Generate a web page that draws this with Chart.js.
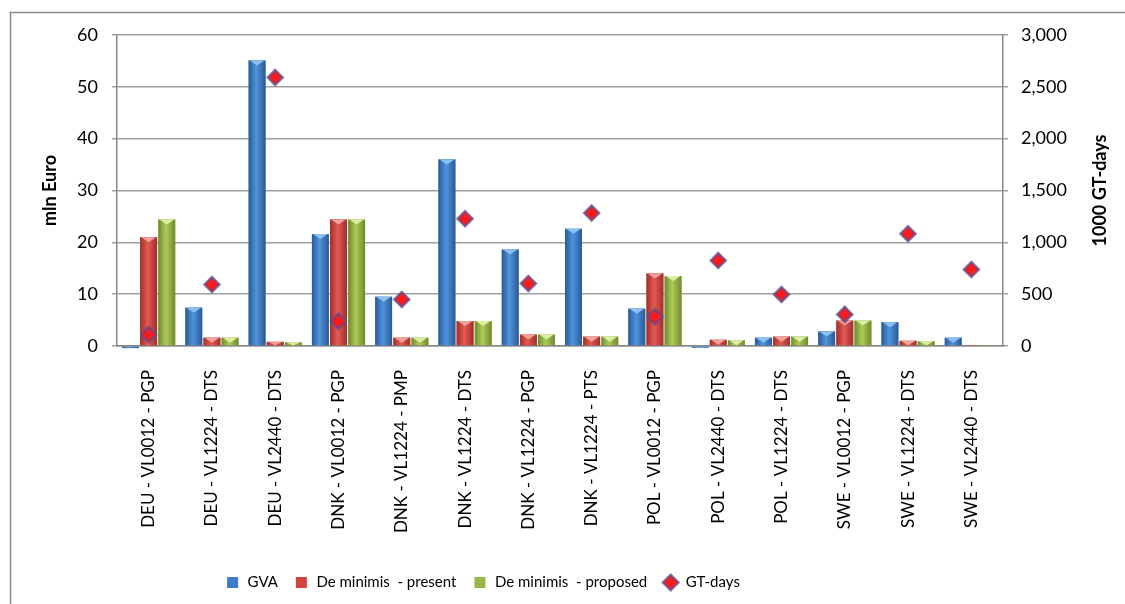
<!DOCTYPE html>
<html>
<head>
<meta charset="utf-8">
<script src="https://cdn.jsdelivr.net/npm/chart.js@4.4.0/dist/chart.umd.min.js"></script>
<style>
  html, body { margin: 0; padding: 0; background: #fff; }
  canvas { display: block; }
</style>
</head>
<body>
<canvas id="fleetChart" width="1125" height="604"></canvas>
<script>
// fleet segments and their values
const segments = [
  'DEU - VL0012 - PGP', 'DEU - VL1224 - DTS', 'DEU - VL2440 - DTS',
  'DNK - VL0012 - PGP', 'DNK - VL1224 - PMP', 'DNK - VL1224 - DTS',
  'DNK - VL1224 - PGP', 'DNK - VL1224 - PTS', 'POL - VL0012 - PGP',
  'POL - VL2440 - DTS', 'POL - VL1224 - DTS', 'SWE - VL0012 - PGP',
  'SWE - VL1224 - DTS', 'SWE - VL2440 - DTS'
];
const gva               = [-0.4, 7.4, 55.1, 21.6, 9.5, 36.0, 18.6, 22.6, 7.2, -0.3, 1.6, 2.8, 4.6, 1.6];
const deMinimisPresent  = [21.0, 1.6, 0.8, 24.4, 1.6, 4.8, 2.2, 1.8, 14.0, 1.2, 1.8, 4.9, 1.0, 0.2];
const deMinimisProposed = [24.4, 1.6, 0.7, 24.4, 1.6, 4.8, 2.2, 1.8, 13.5, 1.1, 1.8, 4.9, 0.9, 0.2];
const gtDays            = [110, 593, 2590, 240, 449, 1228, 603, 1282, 282, 824, 497, 305, 1083, 737];

const euroMax = 60, euroStep = 10;
const gtMax = 3000, gtStep = 500;

const FONT = 'Lato, "Liberation Sans", sans-serif';
const legendShift = -80;

// bar colours: flat fill for legend, dark/light for the cylinder look
const shades = [
  { mid: '#3c7bc6', dark: '#2a5a93', light: '#4f93de', top: '#8cc0f2' },
  { mid: '#d1443e', dark: '#a12e2a', light: '#e25a53', top: '#f3a19b' },
  { mid: '#97b744', dark: '#6d8a2e', light: '#aecb58', top: '#dcefa0' }
];

// paints each bar with a horizontal gradient and a light bevel on top
const barShade = {
  id: 'barShade',
  afterDatasetDraw(chart, args) {
    const meta = args.meta;
    if (meta.type !== 'bar') return;
    const shade = shades[args.index];
    const ctx = chart.ctx;
    ctx.save();
    meta.data.forEach(bar => {
      const { x, y, base, width } = bar.getProps(['x', 'y', 'base', 'width'], true);
      const left = x - width / 2;
      const top = Math.min(y, base);
      const h = Math.abs(base - y);
      if (h < 0.5) return;
      const g = ctx.createLinearGradient(left, 0, left + width, 0);
      g.addColorStop(0, shade.dark);
      g.addColorStop(0.45, shade.light);
      g.addColorStop(1, shade.dark);
      ctx.fillStyle = g;
      ctx.fillRect(left, top, width, h);
      if (y < base && h > 2) {
        ctx.fillStyle = shade.top;
        ctx.beginPath();
        ctx.moveTo(left + 1, top);
        ctx.lineTo(left + width - 1, top);
        ctx.lineTo(x, top + Math.min(5, h));
        ctx.closePath();
        ctx.fill();
      }
    });
    ctx.restore();
  }
};

// outer frame, right axis title and legend placement
const decor = {
  id: 'decor',
  afterLayout(chart) {
    chart.legend.left += legendShift;
    chart.legend.right += legendShift;
  },
  beforeDraw(chart) {
    const ctx = chart.ctx;
    ctx.save();
    ctx.fillStyle = '#fff';
    ctx.fillRect(0, 0, chart.width, chart.height);
    ctx.strokeStyle = '#8c8c8c';
    ctx.lineWidth = 1.5;
    ctx.beginPath();
    ctx.moveTo(10.5, chart.height);
    ctx.lineTo(10.5, 12.5);
    ctx.lineTo(chart.width, 12.5);
    ctx.stroke();
    ctx.restore();
  },
  afterDraw(chart) {
    const ctx = chart.ctx;
    const area = chart.chartArea;
    ctx.save();
    ctx.translate(chart.scales.y1.right - 25, (area.top + area.bottom) / 2);
    ctx.rotate(-Math.PI / 2);
    ctx.textAlign = 'center';
    ctx.textBaseline = 'middle';
    ctx.fillStyle = '#000';
    ctx.font = 'bold 18px ' + FONT;
    ctx.fillText('1000 GT-days', 0, 0);
    ctx.restore();
  }
};

const axisGrey = '#868686';

new Chart(document.getElementById('fleetChart'), {
  type: 'bar',
  data: {
    labels: segments,
    datasets: [
      { label: 'GVA', data: gva, backgroundColor: shades[0].mid, pointStyle: 'rect', order: 1, clip: 5,
        categoryPercentage: 0.86, barPercentage: 0.93 },
      { label: 'De minimis  - present', data: deMinimisPresent, backgroundColor: shades[1].mid, pointStyle: 'rect', order: 1,
        categoryPercentage: 0.86, barPercentage: 0.93 },
      { label: 'De minimis  - proposed', data: deMinimisProposed, backgroundColor: shades[2].mid, pointStyle: 'rect', order: 1,
        categoryPercentage: 0.86, barPercentage: 0.93 },
      { label: 'GT-days', type: 'line', data: gtDays, yAxisID: 'y1', showLine: false, order: 0,
        pointStyle: 'rectRot', pointRadius: 7.5, pointHoverRadius: 7.5,
        backgroundColor: '#ff1a1a', borderColor: 'rgba(95,75,140,0.8)',
        pointBackgroundColor: '#ff1a1a', pointBorderColor: 'rgba(95,75,140,0.75)', pointBorderWidth: 2.5 }
    ]
  },
  options: {
    responsive: false,
    animation: false,
    layout: { padding: { top: 35, left: 0, right: 0, bottom: 4 } },
    plugins: {
      tooltip: { enabled: false },
      legend: {
        position: 'bottom',
        labels: {
          usePointStyle: true,
          boxHeight: 11,
          padding: 16,
          color: '#000',
          font: { size: 15, family: FONT },
          sort: (a, b) => a.datasetIndex - b.datasetIndex
        }
      }
    },
    scales: {
      x: {
        grid: { display: false, drawTicks: false },
        border: { display: true, color: axisGrey, width: 1.5 },
        ticks: { autoSkip: false, minRotation: 90, maxRotation: 90, padding: 24, color: '#000', font: { size: 17, family: FONT } },
        afterFit: s => { s.height = 213; }
      },
      y: {
        position: 'left',
        min: 0, max: euroMax,
        ticks: { stepSize: euroStep, padding: 14, color: '#000', font: { size: 18, family: FONT } },
        grid: { color: '#a0a0a0', lineWidth: 1.5, tickLength: 5 },
        border: { color: axisGrey, width: 1.5 },
        title: { display: true, text: 'mln Euro', color: '#000', font: { size: 18, weight: 'bold', family: FONT }, padding: { top: 39, bottom: 0 } },
        afterFit: s => { s.width = 117; }
      },
      y1: {
        position: 'right',
        min: 0, max: gtMax,
        ticks: { stepSize: gtStep, padding: 13, color: '#000', font: { size: 18, family: FONT },
                 callback: v => v.toLocaleString('en-US') },
        grid: { drawOnChartArea: false, color: '#a0a0a0', lineWidth: 1.5, tickLength: 5 },
        border: { color: axisGrey, width: 1.5 },
        afterFit: s => { s.width = 122; }
      }
    }
  },
  plugins: [barShade, decor]
});
</script>
</body>
</html>
